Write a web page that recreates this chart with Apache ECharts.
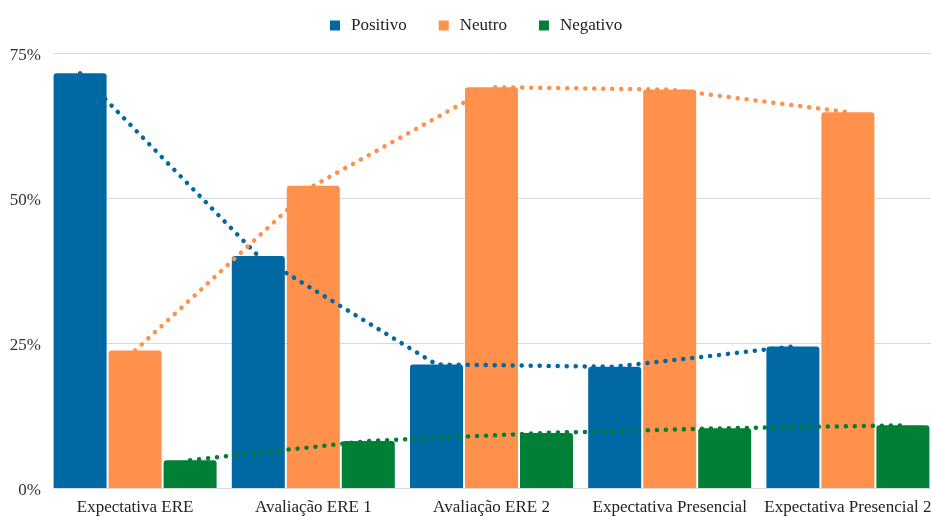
<!DOCTYPE html>
<html>
<head>
<meta charset="utf-8">
<script src="https://cdn.jsdelivr.net/npm/echarts@6/dist/echarts.min.js"></script>
<style>
  html, body { margin: 0; padding: 0; background: #fff; overflow: hidden; }
  #chart { width: 937px; height: 516px; }
</style>
</head>
<body>
<div id="chart"></div>
<script>
// Survey stages and share of answers (%) per sentiment
const categories = ['Expectativa ERE', 'Avaliação ERE 1', 'Avaliação ERE 2', 'Expectativa Presencial', 'Expectativa Presencial 2'];
const positivo = [71.5, 40.0, 21.3, 20.9, 24.4];
const neutro   = [23.7, 52.1, 69.1, 68.7, 64.8];
const negativo = [4.8, 8.1, 9.5, 10.3, 10.8];
const yTicks = [0, 25, 50, 75];

const COLORS = { positivo: '#0068a2', neutro: '#ff914d', negativo: '#007f37' };
const FONT = '"Liberation Serif", "Times New Roman", serif';

// bar layout in pixels; the dotted lines join the top centre of each bar
const BAR_W = 53, BAR_GAP = 2;
const BAR_GRID_LEFT = 46, BAR_GRID_RIGHT = 0, CHART_W = 937;
const BAND = (CHART_W - BAR_GRID_LEFT - BAR_GRID_RIGHT) / categories.length;
const shift = (BAR_W + BAR_GAP) / BAND;

function linePoints(values, offset) {
  return values.map((v, i) => [i + offset, v]);
}

const chart = echarts.init(document.getElementById('chart'), null, { renderer: 'canvas' });

const barSeries = (name, data, color) => ({
  name, type: 'bar', data, xAxisIndex: 1, yAxisIndex: 1,
  barWidth: BAR_W, barGap: (BAR_GAP / BAR_W * 100) + '%',
  itemStyle: { color, borderRadius: [3, 3, 0, 0] },
  z: 2
});

const dotSeries = (name, data, color) => ({
  name: name + ' (linha)', type: 'line', data, xAxisIndex: 2, yAxisIndex: 1,
  symbol: 'none', silent: true, z: 3,
  lineStyle: { color, width: 4.5, type: [0.1, 8.9], cap: 'round' }
});

chart.setOption({
  animation: false,
  backgroundColor: '#fff',
  legend: {
    data: ['Positivo', 'Neutro', 'Negativo'],
    top: 12, left: 325,
    icon: 'rect', itemWidth: 10, itemHeight: 10, itemGap: 32,
    textStyle: { fontFamily: FONT, fontSize: 17, color: '#222', padding: [0, 0, 0, 6] }
  },
  grid: [
    { left: 54, right: CHART_W - 931, top: 53, bottom: 28, outerBoundsMode: 'none', containLabel: false },
    { left: BAR_GRID_LEFT, right: BAR_GRID_RIGHT, top: 53, bottom: 28, outerBoundsMode: 'none', containLabel: false }
  ],
  xAxis: [
    { gridIndex: 0, type: 'value', min: 0, max: 1, show: false },
    {
      gridIndex: 1, type: 'category', data: categories,
      axisLine: { show: false }, axisTick: { show: false },
      axisLabel: { interval: 0, fontFamily: FONT, fontSize: 17, color: '#222', margin: 11 }
    },
    { gridIndex: 1, type: 'value', min: -0.5, max: categories.length - 0.5, show: false }
  ],
  yAxis: [
    {
      gridIndex: 0, type: 'value', min: yTicks[0], max: yTicks[yTicks.length - 1], interval: 25,
      axisLine: { show: false }, axisTick: { show: false },
      axisLabel: {
        formatter: '{value}%', fontFamily: FONT, fontSize: 17, color: '#333', margin: 13,
        verticalAlign: 'top', lineHeight: 6
      },
      splitLine: { lineStyle: { color: '#d9d9d9', width: 1 } }
    },
    {
      gridIndex: 1, type: 'value', min: yTicks[0], max: yTicks[yTicks.length - 1], interval: 25,
      show: false, splitLine: { show: false }
    }
  ],
  series: [
    barSeries('Positivo', positivo, COLORS.positivo),
    barSeries('Neutro', neutro, COLORS.neutro),
    barSeries('Negativo', negativo, COLORS.negativo),
    dotSeries('Positivo', linePoints(positivo, -shift), COLORS.positivo),
    dotSeries('Neutro', linePoints(neutro, 0), COLORS.neutro),
    dotSeries('Negativo', linePoints(negativo, shift), COLORS.negativo)
  ]
});
</script>
</body>
</html>
